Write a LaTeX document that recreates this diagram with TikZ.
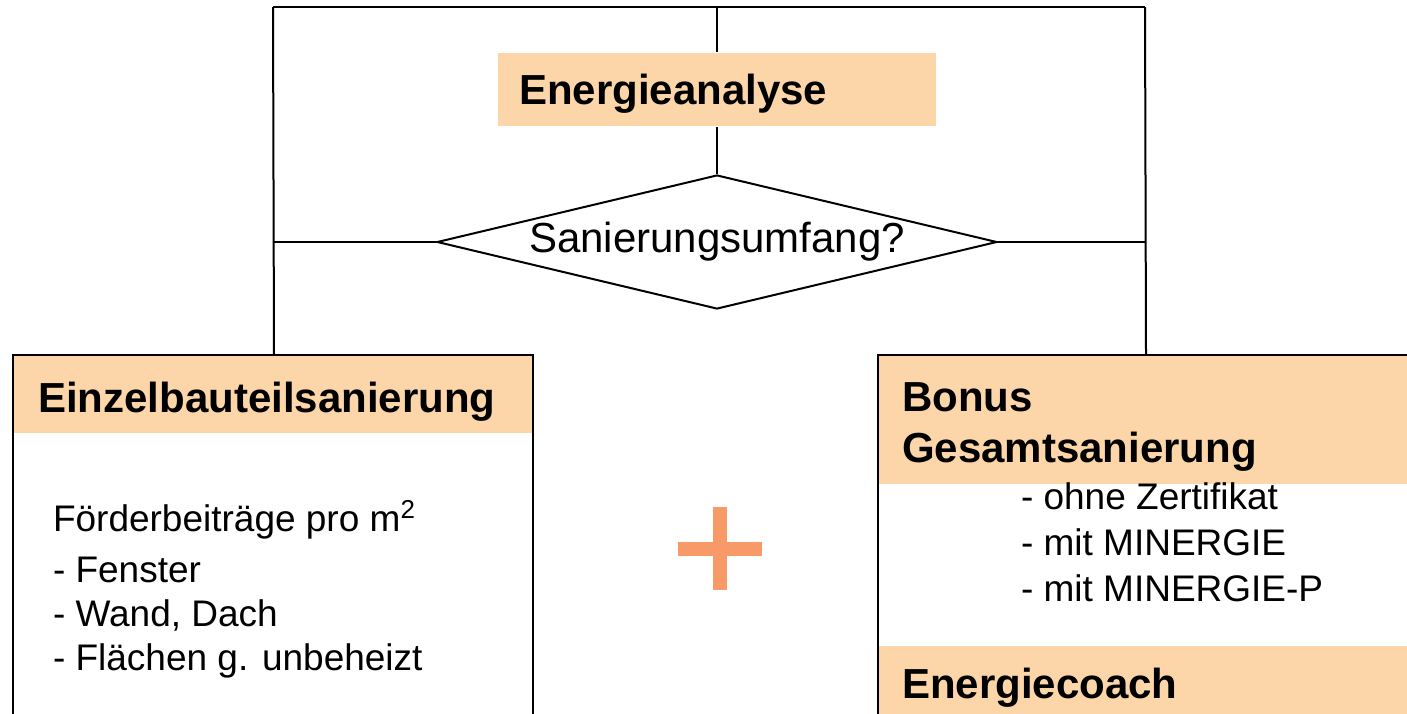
\documentclass[tikz,border=0pt]{standalone}
\usepackage{fontspec}
\setmainfont{Liberation Sans}
\usetikzlibrary{shapes.geometric}

\definecolor{peach}{RGB}{252,213,168}
\definecolor{plusorange}{RGB}{248,154,103}

\tikzset{every picture/.style={line width=1pt}}
\tikzset{
  head/.style={fill=peach, inner ysep=0pt, align=left,
    font=\fontsize{21}{25.5}\selectfont\bfseries},
  lift/.style={execute at begin node={\rule{0pt}{#1}}},
  body/.style={inner sep=0pt, align=left,
    font=\fontsize{18.5}{22}\selectfont},
}

\begin{document}
\begin{tikzpicture}[x=0.5pt,y=0.5pt,yscale=-1,xscale=1]
    \useasboundingbox (0,0) rectangle (1407,713);
    \clip (0,0) rectangle (1407,713);

    % Text Node
    \node[head, lift=19pt, minimum width=219pt, minimum height=36.5pt, inner xsep=10.5pt, text width=198pt] (analyse) at (717,89.5) {Energieanalyse};
    % Shape: Diamond
    \node[draw, diamond, aspect=4.18, minimum width=280pt, minimum height=67pt, inner sep=0pt,
      font=\fontsize{21}{25}\selectfont] (umfang) at (717,242) {Sanierungsumfang?};

    % Text Node
    \node[head, lift=22pt, anchor=north west, minimum width=260pt, minimum height=38.5pt, inner xsep=12pt, text width=236pt] (einzel) at (13,355) {Einzelbauteilsanierung};
    % Text Node
    \node[head, lift=21pt, anchor=north west, minimum width=267pt, minimum height=64pt, inner xsep=11.5pt, text width=244pt] (bonus) at (878,355) {Bonus\\Gesamtsanierung};
    % Text Node
    \node[head, lift=17pt, anchor=north west, minimum width=267pt, minimum height=40pt, inner xsep=11.5pt, text width=244pt] (coach) at (878,645) {Energiecoach};

    % Shape: Rectangle
    \draw (13,355) rectangle (533,760);
    % Shape: Rectangle
    \draw (878,355) rectangle (1412,760);

    % Text Node
    \node[body, anchor=west] (foerder) at (52,520) {Förderbeiträge pro m\textsuperscript{2}};
    % Text Node
    \node[body, anchor=west] (bauteile) at (52,618) {- Fenster\\- Wand, Dach\\- Flächen g. unbeheizt};
    % Text Node
    \node[body, anchor=west, font=\fontsize{18.5}{23}\selectfont] (stufen) at (1020,542) {- ohne Zertifikat\\- mit MINERGIE\\- mit MINERGIE-P};

    % connectors
    \coordinate (tl) at (273,7);
    \coordinate (tr) at (1145,7);
    \draw (tl) -- (tr);
    \draw (tl) -- (einzel.north);
    \draw (tr) -- (bonus.north);
    \draw (analyse.north |- tl) -- (analyse.north);
    \draw (analyse.south) -- (umfang.north);
    \draw (umfang.west) -- (umfang.west -| tl);
    \draw (umfang.east) -- (umfang.east -| tr);

    % Shape: Plus
    \fill[plusorange] (678,542) rectangle (762,556);
    \fill[plusorange] (713,507) rectangle (727,590);

\end{tikzpicture}
\end{document}
